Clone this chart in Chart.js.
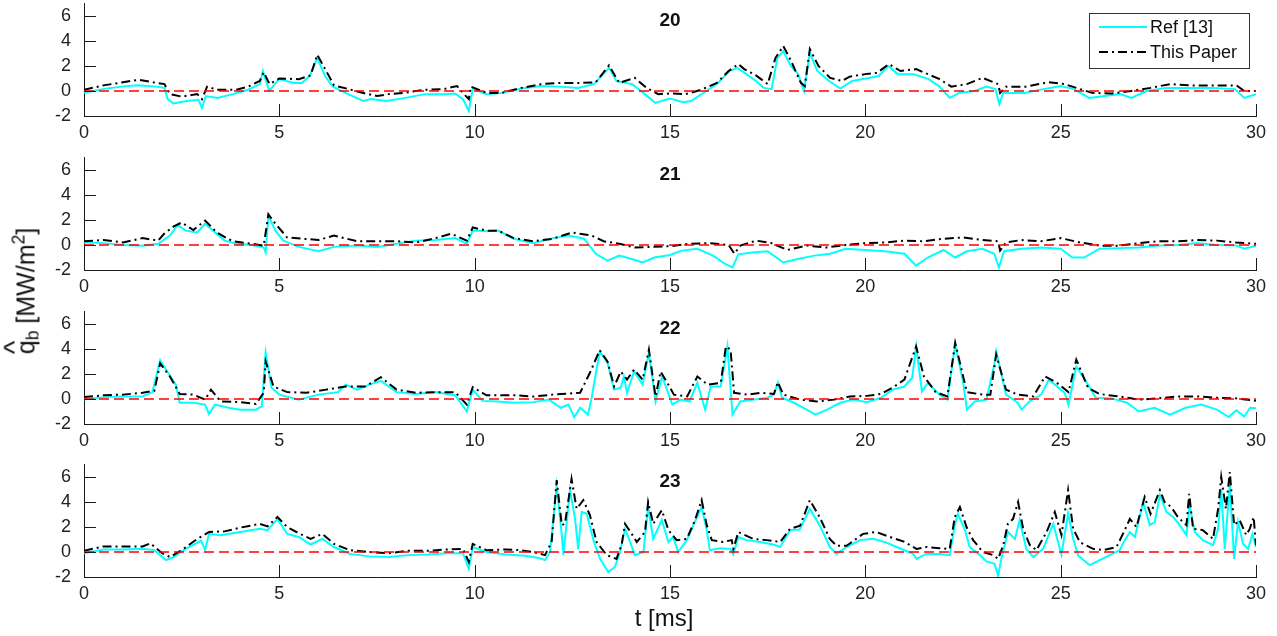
<!DOCTYPE html>
<html>
<head>
<meta charset="utf-8">
<script src="https://cdn.jsdelivr.net/npm/chart.js@4.4.1/dist/chart.umd.min.js"></script>
<style>
  html, body { margin: 0; padding: 0; background: #fff; }
  body { width: 1277px; height: 636px; position: relative; overflow: hidden;
         font-family: "Liberation Sans", Arial, Helvetica, sans-serif; color: #111; }
  canvas { position: absolute; left: 0; }
  #ylabel { position: absolute; left: 26px; top: 291px; white-space: nowrap; font-size: 25px;
            transform: translate(-50%, -50%) rotate(-90deg); }
  #ylabel .q { position: relative; display: inline-block; }
  #ylabel .hat { position: absolute; left: 0; top: -0.45em; font-size: 1.15em; }
  #ylabel sub { font-size: 0.7em; vertical-align: -0.25em; }
  #ylabel sup { font-size: 0.7em; vertical-align: 0.55em; }
  #xlabel { position: absolute; left: 664px; top: 618px; transform: translate(-50%, -50%);
            font-size: 24px; white-space: nowrap; }
</style>
</head>
<body>
<canvas id="p0" width="1277" height="150"></canvas>
<canvas id="p1" width="1277" height="150"></canvas>
<canvas id="p2" width="1277" height="150"></canvas>
<canvas id="p3" width="1277" height="150"></canvas>
<div id="ylabel"><span class="q">q<span class="hat">^</span></span><sub>b</sub> [MW/m<sup>2</sup>]</div>
<div id="xlabel">t [ms]</div>
<script>
// values, [t (ms), q (MW/m^2)]
const ref20 = [[0,-0.15],[0.47,0.15],[0.96,0.35],[1.36,0.45],[1.85,0.35],[2.06,0.25],[2.14,-0.65],[2.29,-1.0],[2.63,-0.8],[2.93,-0.7],[3.02,-1.35],[3.12,-0.4],[3.42,-0.55],[3.81,-0.25],[4.2,0.1],[4.5,0.55],[4.58,1.6],[4.74,0.0],[4.99,0.95],[5.38,0.65],[5.58,0.65],[5.78,1.2],[5.97,2.65],[6.17,1.2],[6.37,0.35],[6.76,-0.25],[7.15,-0.8],[7.35,-0.65],[7.74,-0.8],[8.23,-0.55],[8.72,-0.25],[9.21,-0.25],[9.5,-0.2],[9.7,-0.65],[9.85,-1.6],[9.95,0.2],[10.3,-0.25],[10.7,-0.15],[11.2,0.2],[11.7,0.4],[12.16,0.35],[12.65,0.25],[13.05,0.55],[13.44,1.85],[13.63,0.8],[14.03,0.55],[14.32,-0.15],[14.62,-0.95],[15.0,-0.6],[15.34,-0.9],[15.54,-0.8],[15.93,0],[16.23,0.65],[16.52,1.6],[16.72,1.85],[16.91,1.45],[17.2,0.8],[17.4,0.25],[17.6,0.15],[17.75,2.65],[17.9,3.2],[18.09,2.0],[18.28,1.35],[18.43,0],[18.58,3.05],[18.77,1.6],[19.07,0.8],[19.36,0.2],[19.66,0.8],[20.02,1.0],[20.34,1.2],[20.59,2.0],[20.83,1.35],[21.23,1.35],[21.62,0.95],[21.9,0.35],[22.16,-0.55],[22.4,-0.15],[22.8,0],[23.1,0.35],[23.33,0.15],[23.43,-1.05],[23.53,-0.15],[24.07,-0.15],[24.56,0.15],[25.0,0.4],[25.34,0.15],[25.73,-0.55],[26.13,-0.4],[26.52,-0.25],[26.81,-0.55],[27.2,0],[27.7,0.25],[28.28,0.25],[28.87,0.25],[29.46,0.15],[29.7,-0.55],[30,-0.25]];
const pap20 = [[0,0.1],[0.5,0.45],[1,0.7],[1.4,0.9],[1.85,0.65],[2.06,0.55],[2.2,-0.25],[2.5,-0.45],[2.9,-0.25],[3.02,-0.65],[3.15,0.35],[3.4,0.1],[3.9,0.1],[4.2,0.35],[4.5,0.8],[4.6,1.5],[4.75,0.55],[5.0,1.0],[5.5,0.95],[5.8,1.25],[5.97,2.9],[6.2,1.6],[6.4,0.45],[6.8,0.13],[7.2,-0.2],[7.5,-0.4],[7.8,-0.25],[8.2,-0.15],[8.7,0.1],[9.2,0.15],[9.55,0.4],[9.7,-0.15],[9.85,-0.65],[9.9,0.35],[10.3,-0.15],[10.7,-0.15],[11.2,0.25],[11.7,0.55],[12.2,0.65],[12.7,0.65],[13.1,0.7],[13.44,2.05],[13.7,0.65],[14.1,1.05],[14.4,0.25],[14.7,-0.25],[15.0,-0.2],[15.4,-0.25],[15.8,0.1],[16.2,0.65],[16.5,1.6],[16.75,2.15],[16.9,1.75],[17.2,1.25],[17.5,0.55],[17.7,2.65],[17.9,3.6],[18.1,2.4],[18.35,0.65],[18.45,0.4],[18.58,3.35],[18.8,2.0],[19.1,1.05],[19.4,0.8],[19.6,1.15],[20,1.35],[20.3,1.45],[20.6,2.15],[20.9,1.6],[21.3,1.75],[21.6,1.35],[21.9,0.95],[22.2,0.35],[22.6,0.55],[23.0,1.05],[23.4,0.55],[23.45,-0.15],[23.6,0.35],[24.1,0.35],[24.7,0.7],[25.1,0.55],[25.4,0.25],[25.8,-0.15],[26.3,-0.2],[26.8,0],[27.3,0.25],[27.8,0.55],[28.3,0.45],[28.9,0.45],[29.5,0.45],[29.7,0],[30,0]];

const ref21 = [[0,0.2],[0.5,0.15],[1,0],[1.5,-0.05],[1.9,0.1],[2.2,0.75],[2.4,1.6],[2.6,1.15],[2.9,1.0],[3.1,1.7],[3.3,1.15],[3.6,0.35],[3.9,0.1],[4.3,0],[4.6,-0.2],[4.65,-0.6],[4.72,2.35],[4.9,1.15],[5.1,0.35],[5.5,-0.15],[6,-0.5],[6.4,-0.15],[7,-0.05],[7.5,-0.15],[8,0.1],[8.5,0.35],[9,0.4],[9.5,0.55],[9.8,0.1],[9.95,1.15],[10.3,1.1],[10.6,1.15],[11,0.5],[11.5,0.15],[12,0.55],[12.4,0.75],[12.8,0.5],[13.1,-0.7],[13.4,-1.25],[13.7,-0.85],[14,-1.1],[14.3,-1.4],[14.6,-1.0],[15,-0.8],[15.3,-0.45],[15.7,-0.3],[16.1,-0.85],[16.4,-1.5],[16.6,-1.8],[16.75,-0.75],[17.1,-0.6],[17.5,-0.5],[17.9,-1.4],[18.3,-1.1],[18.7,-0.85],[19.1,-0.7],[19.5,-0.3],[20,-0.4],[20.5,-0.5],[21,-0.7],[21.3,-1.65],[21.6,-1.0],[22,-0.4],[22.3,-1.0],[22.6,-0.5],[23,-0.3],[23.3,-0.7],[23.42,-1.8],[23.55,-0.5],[24,-0.3],[24.5,-0.2],[25,-0.3],[25.3,-1.0],[25.6,-1.0],[26,-0.3],[26.5,-0.25],[27,-0.2],[27.5,-0.05],[28,0],[28.5,0.15],[29,0],[29.5,-0.05],[29.7,-0.3],[30,-0.05]];
const pap21 = [[0,0.3],[0.5,0.4],[1,0.2],[1.5,0.55],[1.9,0.35],[2.05,0.9],[2.3,1.5],[2.5,1.8],[2.8,1.2],[3.1,1.95],[3.4,1.0],[3.8,0.3],[4.3,0.1],[4.6,-0.05],[4.72,2.45],[4.9,1.7],[5.2,0.6],[5.6,0.5],[6,0.4],[6.4,0.75],[7,0.3],[7.5,0.3],[8,0.3],[8.5,0.2],[9,0.55],[9.4,0.9],[9.8,0.35],[9.95,1.4],[10.3,1.15],[10.6,1.15],[11,0.55],[11.5,0.3],[12,0.5],[12.5,1.0],[13,0.75],[13.3,0.3],[13.7,0.1],[14.1,-0.2],[14.5,-0.15],[15,-0.1],[15.5,0.1],[16,0.15],[16.5,0],[16.65,-0.7],[16.8,-0.05],[17.2,0.35],[17.6,0.15],[18,-0.4],[18.5,-0.05],[19,-0.2],[19.5,0],[20,0.15],[20.5,0.2],[21,0.35],[21.5,0.3],[22,0.5],[22.5,0.6],[23,0.4],[23.4,0.3],[23.45,-0.45],[23.6,0.2],[24,0.4],[24.5,0.3],[25,0.55],[25.5,0.2],[26,-0.05],[26.5,-0.05],[27,0.15],[27.5,0.3],[28,0.3],[28.5,0.4],[29,0.35],[29.5,0.2],[30,0.1]];

const ref22 = [[0,-0.05],[0.5,0.15],[1,0.2],[1.5,0.2],[1.75,0.55],[1.95,3.1],[2.15,2.1],[2.35,1.15],[2.45,-0.3],[2.8,-0.3],[3.1,-0.45],[3.2,-1.2],[3.35,-0.45],[3.7,-0.7],[4,-0.85],[4.4,-0.85],[4.55,-0.6],[4.65,3.7],[4.8,0.9],[5,0.35],[5.5,-0.05],[6,0.35],[6.5,0.55],[6.7,1.15],[7,0.75],[7.3,1.15],[7.6,1.45],[8,0.55],[8.5,0.4],[9,0.55],[9.5,0.3],[9.8,-1.0],[9.95,0.75],[10.2,-0.15],[10.6,-0.2],[11,-0.3],[11.5,-0.25],[11.9,-0.05],[12.2,-0.7],[12.4,-0.45],[12.55,-1.45],[12.7,-0.7],[12.9,-1.25],[13.0,0.2],[13.2,3.8],[13.4,2.9],[13.57,0.75],[13.74,0.9],[13.82,1.8],[13.9,0.5],[14.08,2.2],[14.3,1.15],[14.46,3.7],[14.63,-0.2],[14.8,1.8],[15.06,-0.45],[15.27,-0.05],[15.5,-0.2],[15.7,1.3],[15.9,-0.85],[16.04,1.0],[16.3,1.0],[16.47,4.2],[16.5,2.9],[16.6,-1.25],[16.8,-0.2],[17.15,-0.05],[17.5,0.1],[17.66,0.35],[17.76,1.3],[17.87,0.1],[18.17,-0.3],[18.5,-0.85],[18.72,-1.25],[19.02,-0.85],[19.36,-0.3],[19.7,-0.05],[20.04,-0.25],[20.4,0.1],[20.7,0.75],[21,1.0],[21.2,1.7],[21.3,4.2],[21.45,0.6],[21.6,1.3],[21.9,0.35],[22.1,-0.05],[22.3,4.35],[22.5,1.4],[22.6,-0.85],[22.8,-0.2],[23.1,-0.05],[23.3,2.75],[23.35,3.8],[23.6,0.35],[23.9,-0.3],[24.0,-0.85],[24.2,-0.2],[24.5,0.35],[24.7,1.55],[25.1,0.5],[25.2,-0.45],[25.4,2.6],[25.7,1.15],[25.9,0.1],[26.3,0.05],[26.7,-0.3],[27,-1.0],[27.4,-0.7],[27.8,-1.25],[28.2,-0.7],[28.6,-0.45],[29,-0.85],[29.3,-1.45],[29.5,-0.9],[29.7,-1.4],[29.85,-0.7],[30,-0.75]];
const pap22 = [[0,0.15],[0.5,0.3],[1,0.35],[1.5,0.5],[1.8,0.65],[1.95,2.85],[2.2,1.8],[2.45,0.4],[2.8,0.35],[3.1,-0.05],[3.25,0.75],[3.5,-0.2],[4,-0.25],[4.4,-0.4],[4.6,0.5],[4.65,3.0],[4.85,1.0],[5.2,0.55],[5.7,0.5],[6.2,0.75],[6.7,1.0],[7.2,1.0],[7.6,1.75],[8,0.75],[8.5,0.5],[9,0.55],[9.5,0.55],[9.8,-0.45],[9.95,0.95],[10.3,0.3],[11,0.3],[11.5,0.2],[12,0.35],[12.7,0.5],[12.95,2.1],[13.2,3.9],[13.4,3.0],[13.57,1.0],[13.74,2.2],[13.9,1.55],[14.08,2.35],[14.3,1.55],[14.46,3.95],[14.63,0.2],[14.76,2.2],[14.93,1.3],[15.1,0.35],[15.44,0.2],[15.7,1.8],[15.96,1.15],[16.3,1.3],[16.43,4.2],[16.55,3.95],[16.64,0.5],[16.98,0.35],[17.32,0.5],[17.66,0.4],[17.76,1.35],[17.9,0.35],[18.34,-0.05],[18.76,-0.2],[19.2,-0.05],[19.6,0.2],[20.04,0.25],[20.4,0.4],[20.72,0.95],[21,1.55],[21.3,4.2],[21.5,1.8],[21.8,0.55],[22.1,0.2],[22.3,4.5],[22.6,0.55],[23,0.35],[23.2,0.35],[23.35,3.55],[23.6,0.75],[23.9,0.35],[24.3,0.2],[24.6,1.8],[24.9,1.3],[25.2,0.55],[25.4,3.15],[25.7,0.9],[26,0.4],[26.5,0.2],[27,-0.05],[27.5,0.05],[28,0.2],[28.5,0.2],[29,0.1],[29.5,0.05],[30,-0.15]];

const ref23 = [[0,-0.1],[0.5,0.2],[1,0.2],[1.5,0.25],[1.8,0.15],[2.1,-0.65],[2.3,-0.4],[2.6,0.25],[3,0.9],[3.1,0.15],[3.2,1.45],[3.5,1.35],[4,1.6],[4.5,1.85],[4.7,1.75],[4.95,2.65],[5.2,1.45],[5.5,1.2],[5.8,0.6],[6.1,1.05],[6.4,0.4],[6.8,-0.15],[7.3,-0.35],[7.8,-0.4],[8.3,-0.25],[8.8,-0.2],[9.3,-0.1],[9.7,-0.1],[9.85,-1.35],[9.95,0.4],[10.3,0],[10.8,-0.2],[11.3,-0.3],[11.67,-0.5],[11.8,-0.65],[11.93,0],[12.1,5.3],[12.23,1.35],[12.27,-0.25],[12.44,4.95],[12.57,2.65],[12.65,0.25],[12.74,3.2],[12.87,3.05],[13.04,0.95],[13.21,-0.55],[13.42,-1.6],[13.59,-1.2],[13.72,0],[13.85,1.85],[13.98,0.8],[14.1,-0.25],[14.32,0],[14.44,3.6],[14.57,1.05],[14.79,2.55],[14.96,0.8],[15.08,1.2],[15.21,0],[15.43,0.95],[15.6,2.15],[15.81,3.6],[15.94,1.75],[16.02,0.15],[16.28,0.3],[16.54,0.25],[16.62,-0.2],[16.75,1.2],[16.96,0.95],[17.3,0.8],[17.64,0.6],[17.82,0.4],[18.07,1.75],[18.32,1.8],[18.58,3.45],[18.83,2.15],[19.09,0.4],[19.26,-0.15],[19.52,0.4],[19.86,0.95],[20.2,1.05],[20.54,0.75],[20.88,0.3],[21.22,-0.15],[21.31,-0.55],[21.56,-0.15],[21.9,-0.15],[22.16,-0.25],[22.29,2.15],[22.37,3.05],[22.55,1.75],[22.67,0.4],[22.93,-0.25],[23.1,-0.75],[23.31,-0.95],[23.4,-1.9],[23.48,-0.55],[23.65,1.6],[23.83,1.05],[23.95,2.55],[24.12,0.25],[24.3,-0.4],[24.55,0.25],[24.81,2.25],[25.02,-0.2],[25.19,3.1],[25.32,1.05],[25.45,-0.3],[25.74,-1.05],[26.0,-0.65],[26.26,-0.25],[26.51,0.15],[26.64,0.95],[26.77,1.6],[26.9,1.2],[27.11,4.0],[27.28,2.15],[27.41,2.4],[27.54,4.55],[27.71,3.2],[27.88,2.8],[28.05,2.15],[28.22,1.35],[28.3,3.75],[28.43,1.6],[28.64,0.95],[28.9,0.55],[29.03,1.85],[29.11,5.05],[29.2,0.25],[29.33,5.35],[29.44,-0.55],[29.54,2.4],[29.67,0.65],[29.8,0.25],[29.91,1.45],[30,0.4]];
const pap23 = [[0,0.1],[0.5,0.45],[1,0.45],[1.5,0.45],[1.7,0.7],[2.0,-0.1],[2.2,-0.4],[2.5,0.15],[2.9,1.05],[3.2,1.6],[3.6,1.65],[4,1.95],[4.5,2.25],[4.7,2.05],[4.95,2.8],[5.2,2.0],[5.5,1.5],[5.8,1.05],[6.1,1.45],[6.4,0.65],[6.8,0.15],[7.3,0],[7.8,-0.1],[8.3,0.1],[8.8,0.1],[9.3,0.2],[9.7,0.25],[9.85,-0.8],[9.95,0.65],[10.3,0.15],[10.8,0.2],[11.16,0.15],[11.5,0],[11.8,-0.25],[11.97,0.8],[12.1,5.75],[12.23,2.15],[12.31,2.25],[12.48,5.85],[12.61,3.45],[12.78,4.15],[12.95,2.95],[13.12,0.8],[13.38,-0.25],[13.63,-0.55],[13.76,0.55],[13.85,2.25],[14.02,1.45],[14.15,0.8],[14.36,1.6],[14.44,4.0],[14.57,2.25],[14.79,3.35],[14.96,1.75],[15.17,0.95],[15.43,1.05],[15.64,2.55],[15.81,4.15],[15.94,2.15],[16.07,0.95],[16.36,0.8],[16.58,0.95],[16.62,0.25],[16.75,1.6],[17.13,1.05],[17.47,0.95],[17.82,0.8],[18.07,1.85],[18.33,2.1],[18.58,4.15],[18.83,2.8],[19.09,1.05],[19.26,0.5],[19.52,0.5],[19.94,1.45],[20.28,1.6],[20.63,1.2],[20.97,0.85],[21.31,0.25],[21.56,0.4],[21.9,0.3],[22.16,0.25],[22.29,2.8],[22.42,3.6],[22.59,2.0],[22.76,0.95],[23.01,0],[23.27,-0.25],[23.4,-0.55],[23.53,0.55],[23.65,2.25],[23.78,2.65],[23.91,4.0],[24.04,1.85],[24.21,0.55],[24.38,0.15],[24.64,1.6],[24.85,3.2],[25.02,1.35],[25.19,4.95],[25.32,1.85],[25.49,0.8],[25.57,0.65],[25.83,0.25],[26.09,0.15],[26.43,0.4],[26.64,1.75],[26.77,2.65],[26.94,2.0],[27.15,4.4],[27.3,3.05],[27.54,4.95],[27.66,4.0],[27.83,3.6],[28.0,2.8],[28.22,2.15],[28.29,4.65],[28.39,1.85],[28.64,1.75],[28.9,1.05],[29.03,3.45],[29.11,6.0],[29.23,3.45],[29.33,6.4],[29.44,2.15],[29.58,2.55],[29.75,1.35],[29.84,1.85],[29.94,2.8],[30,0.55]];

const panelTitles = ['20', '21', '22', '23'];
const refSeries = [ref20, ref21, ref22, ref23];
const paperSeries = [pap20, pap21, pap22, pap23];
const legendLabels = ['Ref [13]', 'This Paper'];
const xTicks = [0, 5, 10, 15, 20, 25, 30];
const yTicks = [-2, 0, 2, 4, 6];
const xRange = [0, 30];
const yRange = [-2, 7];

const FONT = '"Liberation Sans", Arial, Helvetica, sans-serif';
const AXIS = '#1a1a1a';
const panelBottoms = [116, 270, 424, 577];   // page y of each x axis
const PAD_TOP = 7.5, AXIS_H = 30;

Chart.defaults.font.family = FONT;

const inwardTicks = {
  id: 'inwardTicks',
  afterDatasetsDraw(chart) {
    const { ctx, chartArea, scales } = chart;
    const len = 12;
    ctx.save();
    ctx.strokeStyle = AXIS;
    ctx.lineWidth = 1;
    ctx.beginPath();
    scales.x.ticks.forEach(t => {
      const px = Math.round(scales.x.getPixelForValue(t.value)) + 0.5;
      ctx.moveTo(px, chartArea.bottom);
      ctx.lineTo(px, chartArea.bottom - len);
    });
    scales.y.ticks.forEach(t => {
      const py = Math.floor(scales.y.getPixelForValue(t.value)) + 0.5;
      ctx.moveTo(chartArea.left, py);
      ctx.lineTo(chartArea.left + len, py);
    });
    ctx.stroke();
    ctx.restore();
  }
};

function titlePlugin(text) {
  return {
    id: 'panelTitle',
    afterDraw(chart) {
      const { ctx, chartArea } = chart;
      ctx.save();
      ctx.font = 'bold 19px ' + FONT;
      ctx.fillStyle = '#111';
      ctx.textAlign = 'center';
      ctx.textBaseline = 'middle';
      ctx.fillText(text, (chartArea.left + chartArea.right) / 2, chartArea.top + 17);
      ctx.restore();
    }
  };
}

// boxed legend in the upper right of the first panel
const boxLegend = {
  id: 'boxLegend',
  afterDraw(chart) {
    const { ctx, chartArea } = chart;
    const right = chartArea.right - 7, top = chartArea.top + 9.5;
    const w = 160, h = 55;
    const left = right - w;
    ctx.save();
    ctx.fillStyle = '#fff';
    ctx.fillRect(left, top, w, h);
    ctx.strokeStyle = '#333';
    ctx.lineWidth = 1;
    ctx.strokeRect(Math.round(left) + 0.5, Math.round(top) + 0.5, w, h);
    const styles = [
      { color: '#00ffff', dash: [] },
      { color: '#000000', dash: [9, 4, 2, 4] }
    ];
    legendLabels.forEach((label, i) => {
      const y = top + 14 + i * 25;
      ctx.beginPath();
      ctx.setLineDash(styles[i].dash);
      ctx.strokeStyle = styles[i].color;
      ctx.lineWidth = 2;
      ctx.moveTo(left + 10, y);
      ctx.lineTo(left + 58, y);
      ctx.stroke();
      ctx.setLineDash([]);
      ctx.font = '18px ' + FONT;
      ctx.fillStyle = '#111';
      ctx.textBaseline = 'middle';
      ctx.fillText(label, left + 61, y + 1);
    });
    ctx.restore();
  }
};

panelTitles.forEach((title, i) => {
  const canvas = document.getElementById('p' + i);
  canvas.style.top = (panelBottoms[i] - 120) + 'px';
  const plugins = [inwardTicks, titlePlugin(title)];
  if (i === 0) plugins.push(boxLegend);

  new Chart(canvas, {
    type: 'line',
    data: {
      datasets: [
        {
          label: 'zero',
          data: [{ x: xRange[0], y: 0 }, { x: xRange[1], y: 0 }],
          borderColor: '#ff0000',
          borderWidth: 1.5,
          borderDash: [10, 5],
          pointRadius: 0
        },
        {
          label: legendLabels[1],
          data: paperSeries[i].map(([x, y]) => ({ x, y })),
          borderColor: '#000000',
          borderWidth: 2,
          borderDash: [9, 4, 2, 4],
          pointRadius: 0,
          tension: 0
        },
        {
          label: legendLabels[0],
          data: refSeries[i].map(([x, y]) => ({ x, y })),
          borderColor: '#00ffff',
          borderWidth: 2,
          pointRadius: 0,
          tension: 0
        }
      ]
    },
    options: {
      responsive: false,
      animation: false,
      events: [],
      layout: { padding: { top: PAD_TOP, left: 0, right: 21, bottom: 0 } },
      plugins: { legend: { display: false }, tooltip: { enabled: false } },
      scales: {
        x: {
          type: 'linear',
          min: xRange[0],
          max: xRange[1],
          afterBuildTicks: s => { s.ticks = xTicks.map(v => ({ value: v })); },
          afterFit: s => { s.height = AXIS_H; s.paddingLeft = 0; s.paddingRight = 0; },
          grid: { display: false },
          border: { display: true, color: AXIS, width: 1 },
          ticks: { font: { size: 18 }, color: '#222', padding: -2, maxRotation: 0, callback: v => String(v) }
        },
        y: {
          type: 'linear',
          min: yRange[0],
          max: yRange[1],
          afterBuildTicks: s => { s.ticks = yTicks.map(v => ({ value: v })); },
          afterFit: s => { s.width = 84; s.paddingTop = 0; s.paddingBottom = 0; },
          grid: { display: false },
          border: { display: true, color: AXIS, width: 1 },
          ticks: { font: { size: 18 }, color: '#222', padding: 5, callback: v => String(v) }
        }
      }
    },
    plugins
  });
});
</script>
</body>
</html>
